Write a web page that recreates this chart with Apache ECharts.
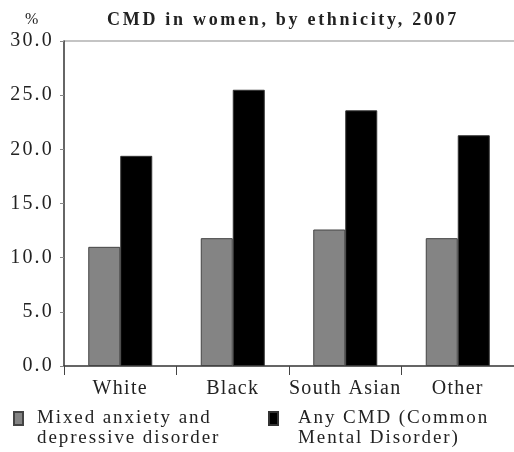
<!DOCTYPE html>
<html><head><meta charset="utf-8">
<script src="https://cdn.jsdelivr.net/npm/echarts@6/dist/echarts.min.js"></script>
<style>html,body{margin:0;padding:0;background:#fff}#c{width:514px;height:452px}</style>
</head><body><div id="c"></div>
<script>
const categories = ['White', 'Black', 'South Asian', 'Other'];
const mixedAnxiety = [11.0, 11.8, 12.6, 11.8];
const anyCMD = [19.4, 25.5, 23.6, 21.3];
const yTicks = [0, 5, 10, 15, 20, 25, 30];
const seriesNames = ['Mixed anxiety and\ndepressive disorder', 'Any CMD (Common\nMental Disorder)'];
const titleText = 'CMD in women, by ethnicity, 2007';
const unitText = '%';

const F = 'Liberation Serif';
// wide letter tracking like the reference, applied when the library draws text
function spacingFor(s) {
  if (s.indexOf('CMD in women') >= 0) return '2.7px';
  if (/^\d+\.\d$/.test(s)) return '2.2px';
  if (categories.includes(s)) return '1.3px';
  if (s === unitText) return '0px';
  return '1.9px';
}
const P = CanvasRenderingContext2D.prototype;
const origFill = P.fillText, origMeasure = P.measureText;
P.fillText = function (s, x, y, w) {
  const prev = this.letterSpacing;
  this.letterSpacing = spacingFor(String(s));
  const r = w === undefined ? origFill.call(this, s, x, y) : origFill.call(this, s, x, y, w);
  this.letterSpacing = prev;
  return r;
};
P.measureText = function (s) {
  const prev = this.letterSpacing;
  this.letterSpacing = spacingFor(String(s));
  const r = origMeasure.call(this, s);
  this.letterSpacing = prev;
  return r;
};

// square marker sitting beside the first line of a two-line legend label
const legendIcon = 'path://M0,0H9V13H0Z M0,33';

const el = document.getElementById('c');
const chart = echarts.init(el, null, {renderer: 'canvas'});
chart.setOption({
  animation: false,
  backgroundColor: '#fff',
  title: [
    {text: titleText, left: 278, top: 5, textAlign: 'center',
     textStyle: {fontFamily: F, fontSize: 18, fontWeight: 'bold', color: '#222'}},
    {text: unitText, left: 20, top: 6,
     textStyle: {fontFamily: F, fontSize: 16, fontWeight: 'normal', color: '#222'}}
  ],
  grid: {left: 64, right: -2, top: 41, bottom: 86, containLabel: false},
  legend: [
    {data: [seriesNames[0]], left: 13, top: 408, padding: 0, itemWidth: 9, itemHeight: 33, itemGap: 0,
     icon: legendIcon, textStyle: {fontFamily: F, fontSize: 19, color: '#222', lineHeight: 20, padding: [0, 0, 0, 9]}},
    {data: [seriesNames[1]], left: 268, top: 408, padding: 0, itemWidth: 9, itemHeight: 33, itemGap: 0,
     icon: legendIcon, textStyle: {fontFamily: F, fontSize: 19, color: '#222', lineHeight: 20, padding: [0, 0, 0, 15]}}
  ],
  xAxis: {
    type: 'category', data: categories,
    axisLine: {show: true, lineStyle: {color: '#333', width: 1.5}},
    axisTick: {show: true, interval: 0, length: 9, lineStyle: {color: '#444'}},
    axisLabel: {interval: 0, fontFamily: F, fontSize: 20, color: '#222', margin: 12, hideOverlap: false},
    splitLine: {show: false}
  },
  yAxis: {
    type: 'value', min: 0, max: 30, interval: 5,
    axisLine: {show: true, lineStyle: {color: '#333', width: 1.5}},
    axisTick: {show: true, length: 4, lineStyle: {color: '#888'}},
    axisLabel: {fontFamily: F, fontSize: 20, color: '#222', margin: 10,
      formatter: v => yTicks.includes(v) ? v.toFixed(1) : ''},
    splitLine: {show: false}
  },
  series: [
    {name: seriesNames[0], type: 'bar', data: mixedAnxiety, barWidth: 32, barGap: '0%',
     itemStyle: {color: '#848484', borderColor: '#444', borderWidth: 1}},
    {name: seriesNames[1], type: 'bar', data: anyCMD, barWidth: 32, barGap: '0%',
     itemStyle: {color: '#000', borderColor: '#333', borderWidth: 1}}
  ]
});
// light top border line at the axis maximum
const yTop = chart.convertToPixel({yAxisIndex: 0}, yTicks[yTicks.length - 1]);
chart.setOption({graphic: [{type: 'line', shape: {x1: 64, y1: yTop, x2: 514, y2: yTop},
  style: {stroke: '#c4c4c4', lineWidth: 2}, z: 0}]});
</script></body></html>
